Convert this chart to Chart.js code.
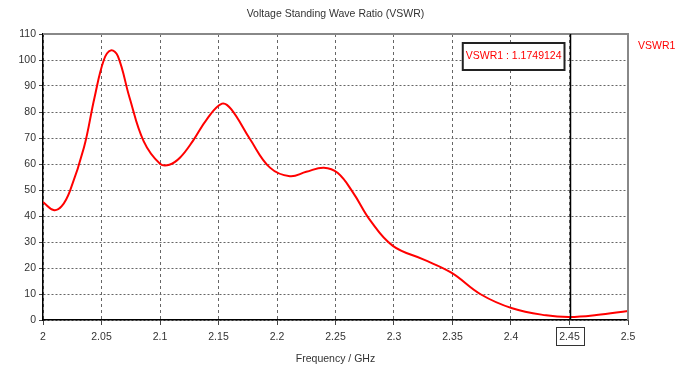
<!DOCTYPE html>
<html>
<head>
<meta charset="utf-8">
<script src="https://cdn.jsdelivr.net/npm/chart.js@4.4.1/dist/chart.umd.min.js"></script>
<style>
  html, body { margin: 0; padding: 0; background: #fff; }
  #wrap { width: 683px; height: 365px; }
</style>
</head>
<body>
<div id="wrap"><canvas id="canvasVswr" width="683" height="365"></canvas></div>
<script>
//chart data
var freqs = [2.000, 2.009, 2.016, 2.023, 2.035, 2.044, 2.052, 2.058, 2.064, 2.074, 2.086, 2.100, 2.108,
  2.117, 2.128, 2.140, 2.153, 2.161, 2.177, 2.194, 2.211, 2.225, 2.240, 2.252, 2.265, 2.280, 2.299,
  2.325, 2.349, 2.374, 2.401, 2.430, 2.450, 2.473, 2.500];
var vswr1 = [45.4, 42.3, 43.8, 49.6, 66.3, 85.5, 100.0, 103.7, 101.5, 85.5, 68.8, 60.1, 59.7,
  62.4, 68.8, 77.2, 83.2, 81.0, 69.5, 58.6, 55.3, 57.0, 58.6, 56.5, 49.0, 38.1, 28.5,
  23.3, 18.2, 9.9, 4.5, 1.8, 1.17, 1.9, 3.5];
var markerFreq = 2.45;
var markerText = 'VSWR1 : 1.1749124';
var seriesName = 'VSWR1';
var chartTitle = 'Voltage Standing Wave Ratio (VSWR)';
var xTitle = 'Frequency / GHz';

var fontFamily = '"Liberation Sans", Arial, sans-serif';
var fontSize = 10.5;

//extra drawing: title, plot border, marker line, marker box, legend text
var overlay = {
  id: 'overlay',
  afterDatasetsDraw: function (chart) {
    var ctx = chart.ctx;
    var area = chart.chartArea;
    var xs = chart.scales.x;
    ctx.save();

    //title centred over the plot
    ctx.font = fontSize + 'px ' + fontFamily;
    ctx.fillStyle = '#333';
    ctx.textAlign = 'center';
    ctx.textBaseline = 'middle';
    ctx.fillText(chartTitle, (area.left + area.right) / 2, 14);

    //gray frame on top and right
    ctx.strokeStyle = '#888';
    ctx.lineWidth = 2;
    ctx.beginPath();
    ctx.moveTo(area.left, area.top);
    ctx.lineTo(area.right, area.top);
    ctx.lineTo(area.right, area.bottom);
    ctx.stroke();

    //marker line
    var mx = Math.round(xs.getPixelForValue(markerFreq)) + 0.5;
    ctx.strokeStyle = '#000';
    ctx.lineWidth = 1.5;
    ctx.beginPath();
    ctx.moveTo(mx, area.top);
    ctx.lineTo(mx, area.bottom);
    ctx.stroke();

    //marker value box
    var tw = ctx.measureText(markerText).width;
    var bw = tw + 6, bh = 27;
    var bx = mx - 6 - bw, by = area.top + 9;
    ctx.fillStyle = '#fff';
    ctx.fillRect(bx, by, bw, bh);
    ctx.strokeStyle = '#222';
    ctx.lineWidth = 2;
    ctx.strokeRect(bx, by, bw, bh);
    ctx.fillStyle = '#ff0000';
    ctx.fillText(markerText, bx + bw / 2, by + bh / 2);

    //box around the marker tick label
    ctx.strokeStyle = '#333';
    ctx.lineWidth = 1;
    ctx.strokeRect(mx - 14, area.bottom + 7.5, 28, 18);

    //legend text
    ctx.fillStyle = '#ff0000';
    ctx.textAlign = 'left';
    ctx.fillText(seriesName, area.right + 10, area.top + 12);
    ctx.restore();
  }
};

var config = {
  type: 'line',
  data: {
    datasets: [{
      label: seriesName,
      data: freqs.map((f, i) => ({ x: f, y: vswr1[i] })),
      borderColor: '#ff0000',
      backgroundColor: '#ff0000',
      borderWidth: 2,
      pointRadius: 0,
      tension: 0.4,
      fill: false
    }]
  },
  options: {
    responsive: false,
    animation: false,
    layout: { padding: { left: 0, right: 55, top: 34, bottom: 0 } },
    plugins: {
      legend: { display: false },
      tooltip: { enabled: false },
      title: { display: false }
    },
    scales: {
      x: {
        type: 'linear',
        min: 2,
        max: 2.5,
        afterFit: function (scale) { scale.height = 45; },
        afterBuildTicks: function (scale) {
          var t = [];
          for (var i = 0; i <= 10; i++) t.push({ value: Math.round((2 + i * 0.05) * 100) / 100 });
          scale.ticks = t;
        },
        ticks: {
          color: '#333',
          padding: 6,
          maxRotation: 0,
          font: { family: fontFamily, size: fontSize },
          callback: (v) => String(Math.round(v * 100) / 100)
        },
        grid: { color: '#666', lineWidth: 1, tickLength: 5, tickColor: '#444' },
        border: { display: true, color: '#000', width: 1.5, dash: [3, 3] },
        title: {
          display: true,
          text: xTitle,
          color: '#333',
          font: { family: fontFamily, size: fontSize },
          padding: { top: 2, bottom: 0 }
        }
      },
      y: {
        min: 0,
        max: 110,
        afterFit: function (scale) { scale.width = 43; },
        ticks: {
          stepSize: 10,
          color: '#333',
          padding: 3,
          font: { family: fontFamily, size: fontSize }
        },
        grid: { color: '#666', lineWidth: 1, tickLength: 4, tickColor: '#444' },
        border: { display: true, color: '#000', width: 1.5, dash: [2, 2] }
      }
    }
  },
  plugins: [overlay]
};

var chart1 = new Chart(document.getElementById('canvasVswr'), config);
</script>
</body>
</html>
